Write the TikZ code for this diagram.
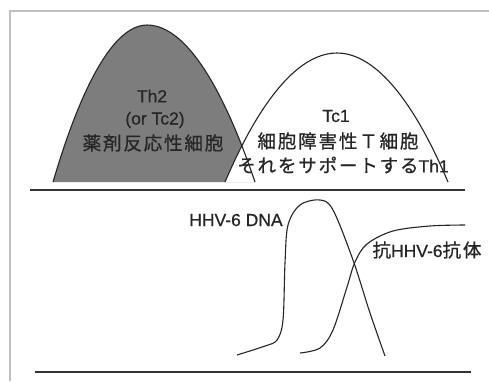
\documentclass[tikz,border=0pt]{standalone}
\usepackage{fontspec}
\setmainfont{Liberation Sans}[FakeBold=0.6]
\newfontfamily\jp[LetterSpace=10,FakeBold=0.8]{Noto Sans CJK JP}
\begin{document}
\begin{tikzpicture}[x=1pt,y=-1pt,
  lbl/.style={font=\fontsize{17.5}{20}\selectfont, text=black!85, inner sep=0pt},
  jlbl/.style={font=\fontsize{18.5}{22}\selectfont\jp, text=black!85, inner sep=0pt},
  curve/.style={line width=1.1pt, black!85},
  sep/.style={line width=1.8pt, black!80},
  frame/.style={line width=1.4pt, black!25}]
\useasboundingbox (0,0) rectangle (489,381);
\fill[white] (0,0) rectangle (489,381);
% frame
\draw[frame] (10,381) -- (10,11) -- (489,11);
% Th2 shaded bell
\fill[fill={rgb,255:red,125;green,125;blue,125}] (53,182) parabola bend (147,25) (255,182) -- cycle;
% Tc1 bell (white cover)
\fill[white] (225,182) parabola bend (337,53) (448,182) -- cycle;
\draw[curve] (53,182) parabola bend (147,25) (255,182);
\draw[curve] (225,182) parabola bend (337,53) (448,182);
% separators
\draw[sep] (30,190) -- (465,190);
\draw[sep] (35,372) -- (471,372);
% texts top
\node[lbl] (th2) at (152,96) {Th2};
\node[lbl] (tc2) at (155,120) {(or Tc2)};
\node[jlbl] (drug) at (153,143) {薬剤反応性細胞};
\node[lbl] (tc1) at (336,116) {Tc1};
\node[jlbl] (ctl) at (338,141) {細胞障害性Ｔ細胞};
\node[lbl] (sup) at (343,165) {{\fontsize{18.5}{22}\selectfont\jp それをサポートする}Th1};
% bottom curves
\draw[curve] plot[smooth, tension=0.55] coordinates {(237,355) (265,346) (277,340) (283,320) (285,263) (288,225) (300,205) (320,200) (333,210) (353,260) (370,313) (385,356)};
\draw[curve] plot[smooth, tension=0.55] coordinates {(300,353) (320,348) (333,330) (347,287) (355,262) (367,244) (393,231) (430,226) (465,225)};
\node[lbl] (dna) at (236,220) {HHV-6 DNA};
\node[lbl] (ab) at (427,250) {{\fontsize{18.5}{22}\selectfont\jp 抗}HHV-6{\fontsize{18.5}{22}\selectfont\jp 抗体}};
\end{tikzpicture}
\end{document}
